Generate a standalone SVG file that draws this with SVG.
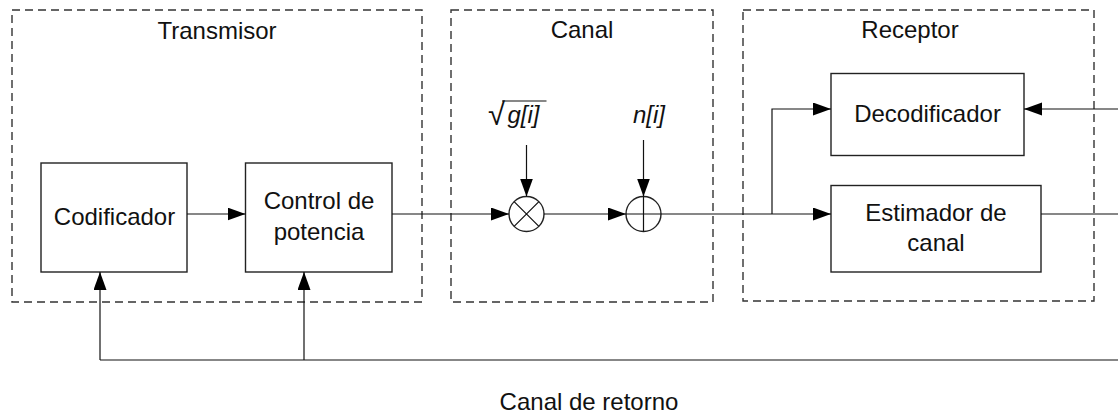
<svg xmlns="http://www.w3.org/2000/svg" width="1118" height="416" viewBox="0 0 1118 416">
<style>
.grp{fill:none;stroke:#333;stroke-width:1.4;stroke-dasharray:8,5}
.box{fill:#fff;stroke:#222;stroke-width:1.4}
.ln{fill:none;stroke:#111;stroke-width:1.2}
.arr{marker-end:url(#ah)}
text{font-family:"Liberation Sans",Arial,sans-serif;font-size:24px;fill:#111;text-anchor:middle}
.it{font-style:italic}
</style>
<defs>
<marker id="ah" markerUnits="userSpaceOnUse" markerWidth="19" markerHeight="14" refX="18" refY="6.5" orient="auto">
<path d="M0,0 L18,6.5 L0,13 z" fill="#000"/>
</marker>
</defs>
<rect width="1118" height="416" fill="#fff"/>
<g id="transmisor">
<rect class="grp" x="12" y="10" width="410" height="292"/>
<text x="217" y="39">Transmisor</text>
</g>
<g id="canal">
<rect class="grp" x="451" y="10" width="262" height="292"/>
<text x="582" y="38">Canal</text>
</g>
<g id="receptor">
<rect class="grp" x="743" y="10" width="351" height="291"/>
<text x="910" y="38">Receptor</text>
</g>
<g id="codificador">
<rect class="box" x="41" y="163" width="146" height="109"/>
<text x="114.5" y="225">Codificador</text>
</g>
<g id="control">
<rect class="box" x="245.5" y="163" width="146.5" height="109"/>
<text x="319" y="209">Control de</text>
<text x="319" y="240">potencia</text>
</g>
<g id="decodificador">
<rect class="box" x="831" y="73.5" width="193" height="82"/>
<text x="927.5" y="122">Decodificador</text>
</g>
<g id="estimador">
<rect class="box" x="831" y="185.5" width="210" height="86.5"/>
<text x="936" y="221">Estimador de</text>
<text x="936" y="251">canal</text>
</g>
<g id="multiplicador">
<circle class="box" cx="526.5" cy="214" r="17.5"/>
<path class="ln" d="M514.1,201.6 L538.9,226.4 M538.9,201.6 L514.1,226.4"/>
</g>
<g id="sumador">
<circle class="box" cx="643.5" cy="214" r="17.5"/>
<path class="ln" d="M626,214 H661 M643.5,196.5 V231.5"/>
</g>
<g id="ganancia">
<text x="496.5" y="125" style="font-size:31px">√</text>
<line class="ln" x1="502" y1="101" x2="546.5" y2="101"/>
<text class="it" x="523.5" y="123">g[i]</text>
</g>
<g id="ruido">
<text class="it" x="649" y="123">n[i]</text>
</g>
<g id="conectores">
<line class="ln arr" x1="187" y1="214" x2="245.5" y2="214"/>
<line class="ln arr" x1="392" y1="214" x2="509" y2="214"/>
<line class="ln arr" x1="544" y1="214" x2="626" y2="214"/>
<line class="ln arr" x1="661" y1="214" x2="831" y2="214"/>
<polyline class="ln arr" points="772,214 772,109 831,109"/>
<line class="ln arr" x1="1118" y1="109" x2="1024" y2="109"/>
<line class="ln" x1="1041" y1="214" x2="1118" y2="214"/>
<line class="ln arr" x1="526.5" y1="145" x2="526.5" y2="196.5"/>
<line class="ln arr" x1="643.5" y1="140" x2="643.5" y2="196.5"/>
<polyline class="ln" points="1118,360 100,360"/>
<line class="ln arr" x1="100" y1="360" x2="100" y2="272"/>
<line class="ln arr" x1="304" y1="360" x2="304" y2="272"/>
</g>
<g id="retorno">
<text x="589" y="410">Canal de retorno</text>
</g>
</svg>
